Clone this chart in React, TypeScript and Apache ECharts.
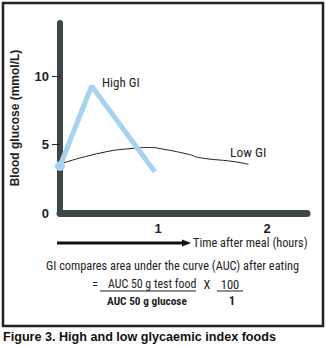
import React, { useEffect, useRef } from "react";
import * as echarts from "echarts";

// Data (hours after meal, blood glucose mmol/L)
const highGiTime = [0.1, 0.39, 0.97];
const highGiGlucose = [3.43, 9.27, 3.01];
const lowGiTime = [0.1, 0.47, 0.77, 0.93, 1.02, 1.27, 1.39, 1.69, 1.83];
const lowGiGlucose = [3.58, 4.38, 4.72, 4.78, 4.7, 4.3, 4.03, 3.76, 3.55];
const yTickValues = [0, 5, 10];
const xTickValues = [1, 2];

const AXIS = "#3d4747";
const BLUE = "#a8d3f0";
const INK = "#1e1e1e";
const FONT = "'Liberation Sans', Arial, sans-serif";
const NARROW = "'Liberation Sans Narrow', 'Roboto Condensed', 'Liberation Sans', sans-serif";

export default function App() {
  const ref = useRef<HTMLDivElement>(null);
  useEffect(() => {
    if (!ref.current) return;
    const chart = echarts.init(ref.current, undefined, { renderer: "svg" });
    const highData = highGiTime.map((t, i) =>
      i === 0
        ? { value: [t, highGiGlucose[i]], symbol: "circle", symbolSize: 10 }
        : { value: [t, highGiGlucose[i]], symbol: "none" }
    );
    const lowData = lowGiTime.map((t, i) => [t, lowGiGlucose[i]]);
    chart.setOption({
      animation: false,
      backgroundColor: "#ffffff",
      grid: { left: 60, right: 19, top: 23, bottom: 134, containLabel: false },
      xAxis: {
        type: "value",
        min: 0.1,
        max: 2.367,
        axisLine: { show: true, lineStyle: { color: AXIS, width: 7 } },
        axisTick: { show: false },
        splitLine: { show: false },
        axisLabel: {
          customValues: xTickValues,
          margin: 9,
          color: INK,
          fontFamily: FONT,
          fontWeight: "bold",
          fontSize: 13,
        },
      },
      yAxis: {
        type: "value",
        min: 0,
        max: 13.87,
        name: "Blood glucose (mmol/L)",
        nameLocation: "middle",
        nameRotate: 90,
        nameGap: 39,
        nameTextStyle: { color: INK, fontFamily: FONT, fontWeight: "bold", fontSize: 12 },
        axisLine: { show: true, lineStyle: { color: AXIS, width: 6 } },
        axisTick: {
          show: true,
          customValues: [5, 10],
          length: 8,
          lineStyle: { color: INK, width: 1 },
        },
        splitLine: { show: false },
        axisLabel: {
          customValues: yTickValues,
          margin: 11,
          color: INK,
          fontFamily: FONT,
          fontWeight: "bold",
          fontSize: 13,
        },
      },
      series: [
        {
          type: "line",
          name: "Low GI",
          data: lowData,
          smooth: 0.5,
          symbol: "none",
          lineStyle: { color: INK, width: 1 },
          z: 2,
        },
        {
          type: "line",
          name: "High GI",
          data: highData,
          showSymbol: true,
          itemStyle: { color: BLUE },
          lineStyle: { color: BLUE, width: 5 },
          z: 3,
        },
      ],
      graphic: [
        {
          type: "rect",
          shape: { x: 3, y: 3, width: 320, height: 323 },
          style: { fill: "none", stroke: "#222222", lineWidth: 2.5 },
          z: 0,
        },
        {
          type: "text",
          x: 102,
          y: 82,
          style: { text: "High GI", font: `13px ${NARROW}`, fill: INK, verticalAlign: "middle" },
        },
        {
          type: "text",
          x: 230,
          y: 152,
          style: { text: "Low GI", font: `13.5px ${NARROW}`, fill: INK, verticalAlign: "middle" },
        },
        {
          type: "line",
          shape: { x1: 57, y1: 243, x2: 184, y2: 243 },
          style: { stroke: "#111111", lineWidth: 3 },
        },
        {
          type: "polygon",
          shape: { points: [[182, 239.5], [191, 243], [182, 246.5]] },
          style: { fill: "#111111" },
        },
        {
          type: "text",
          x: 193,
          y: 243,
          style: {
            text: "Time after meal (hours)",
            font: `12.3px ${NARROW}`,
            fill: INK,
            verticalAlign: "middle",
          },
        },
        {
          type: "text",
          x: 172.5,
          y: 266,
          style: {
            text: "GI compares area under the curve (AUC) after eating",
            font: `12.3px ${NARROW}`,
            fill: INK,
            align: "center",
            verticalAlign: "middle",
          },
        },
        {
          type: "text",
          x: 92,
          y: 284,
          style: { text: "=", font: `12.5px ${NARROW}`, fill: INK, verticalAlign: "middle" },
        },
        {
          type: "text",
          x: 108,
          y: 284,
          style: {
            text: "AUC 50 g test food",
            font: `11.9px ${NARROW}`,
            fill: INK,
            verticalAlign: "middle",
          },
        },
        {
          type: "text",
          x: 207,
          y: 284,
          style: { text: "X", font: `12.5px ${NARROW}`, fill: INK, align: "center", verticalAlign: "middle" },
        },
        {
          type: "text",
          x: 230,
          y: 284,
          style: { text: "100", font: `12.5px ${NARROW}`, fill: INK, align: "center", verticalAlign: "middle" },
        },
        {
          type: "line",
          shape: { x1: 100, y1: 291, x2: 196, y2: 291 },
          style: { stroke: INK, lineWidth: 1 },
        },
        {
          type: "line",
          shape: { x1: 217, y1: 291, x2: 243, y2: 291 },
          style: { stroke: INK, lineWidth: 1 },
        },
        {
          type: "text",
          x: 107,
          y: 301,
          style: {
            text: "AUC 50 g glucose",
            font: `bold 11.3px ${NARROW}`,
            fill: INK,
            verticalAlign: "middle",
          },
        },
        {
          type: "text",
          x: 232,
          y: 301,
          style: { text: "1", font: `bold 12px ${NARROW}`, fill: INK, align: "center", verticalAlign: "middle" },
        },
        {
          type: "text",
          x: 3,
          y: 337,
          style: {
            text: "Figure 3. High and low glycaemic index foods",
            font: `bold 12.6px ${FONT}`,
            fill: "#111111",
            verticalAlign: "middle",
          },
        },
      ],
    });
    return () => chart.dispose();
  }, []);
  return (
    <div
      ref={ref}
      style={{ position: "absolute", left: 0, top: 0, width: 326, height: 347 }}
    />
  );
}
